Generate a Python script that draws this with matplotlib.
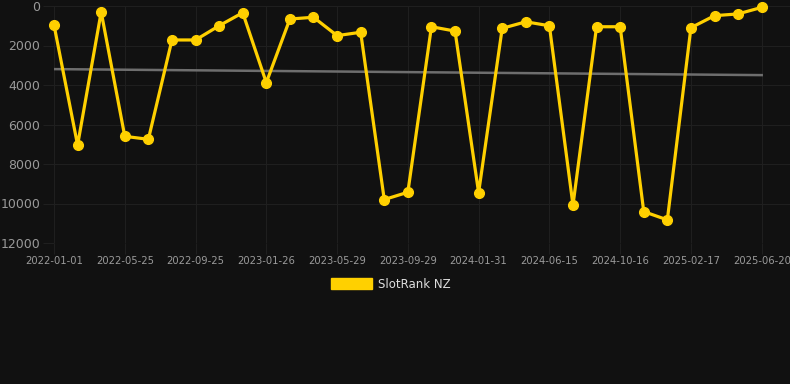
import matplotlib
matplotlib.use("Agg")
import matplotlib.pyplot as plt
from matplotlib.patches import Patch
import numpy as np

tick_labels = ["2022-01-01", "2022-05-25", "2022-09-25", "2023-01-26", "2023-05-29",
               "2023-09-29", "2024-01-31", "2024-06-15", "2024-10-16", "2025-02-17",
               "2025-06-20"]
ranks = [960, 7040, 300, 6600, 6750, 1720, 1720, 1000, 340, 3880,
         660, 570, 1500, 1330, 9800, 9430, 1050, 1270, 9450, 1130,
         800, 1000, 10080, 1050, 1050, 10410, 10830, 1100, 490, 400, 70]
series_name = "SlotRank NZ"

BG = "#111111"
GOLD = "#FFD000"
GRID = "#1f1f1f"
TXT = "#9a9a9a"

fig = plt.figure(figsize=(7.9, 3.84), dpi=100, facecolor=BG)
ax = fig.add_axes([54/790, 1-243/384, 1-54/790, (243-6)/384])
ax.set_facecolor(BG)

x = np.arange(len(ranks))
coef = np.polyfit(x, ranks, 1)
ax.plot(x, np.polyval(coef, x), color="#6e6e6e", lw=1.8, zorder=2)
ax.plot(x, ranks, color=GOLD, lw=2.3, marker="o", ms=7, zorder=3, clip_on=False)

ax.set_ylim(12000, 0)
ax.set_yticks(np.arange(0, 12001, 2000))
ax.set_xlim(0, 31.2)
step = 3
ax.set_xticks(np.arange(0, len(ranks), step))
ax.set_xticklabels(tick_labels)

ax.grid(True, color=GRID, lw=0.8)
ax.set_axisbelow(True)
for s in ax.spines.values():
    s.set_visible(False)
ax.tick_params(axis="y", colors=GRID, labelcolor=TXT, labelsize=9, length=8, width=0.8, pad=2)
ax.tick_params(axis="x", colors=GRID, labelcolor=TXT, labelsize=7.2, length=8, width=0.8, pad=1)

leg = fig.legend(handles=[Patch(facecolor=GOLD, edgecolor=GOLD, label=series_name)],
                 loc="center", bbox_to_anchor=(391/790, 1-284/384), frameon=False,
                 handlelength=3.4, handleheight=0.95, fontsize=8.5, labelcolor="#dddddd",
                 handletextpad=0.55)

fig.savefig("out.png", dpi=100, facecolor=BG)
